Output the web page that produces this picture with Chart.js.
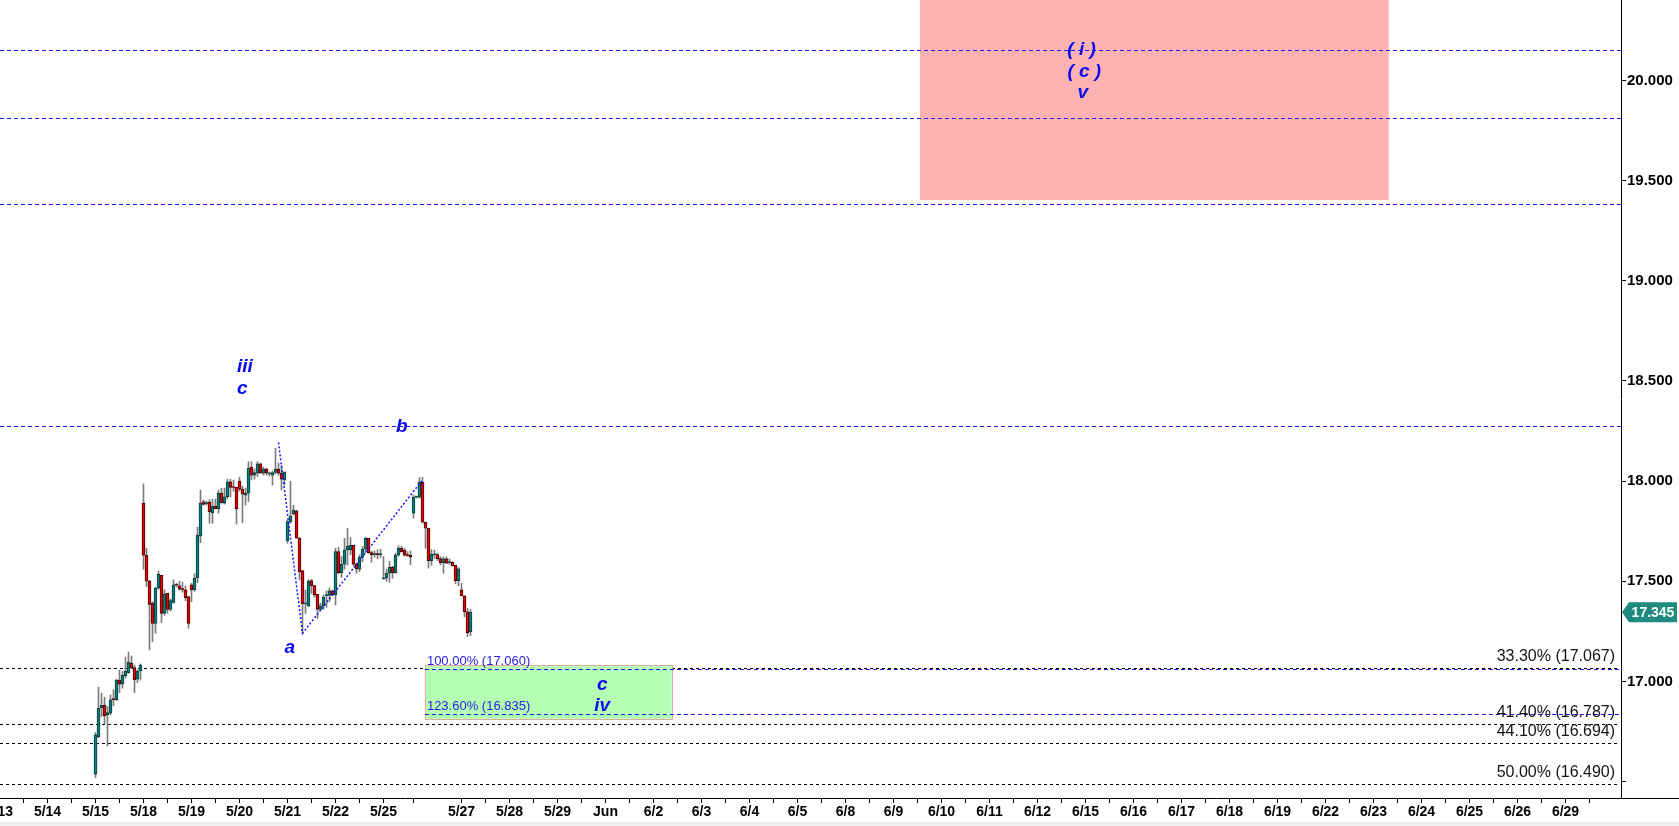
<!DOCTYPE html>
<html>
<head>
<meta charset="utf-8">
<title>Wave count</title>
<script src="https://cdn.jsdelivr.net/npm/chart.js@4.4.1/dist/chart.umd.min.js"></script>
<style>
  html, body { margin: 0; padding: 0; background: #fff; overflow: hidden; }
  canvas { display: block; }
</style>
</head>
<body>
<canvas id="chart" width="1679" height="826"></canvas>
<script>
// ── Données (barres intraday, 16 par séance) ───────────────────────────────

const OPEN = [
  16.537,16.724,16.869,16.881,16.833,16.841,16.911,16.908,17.007,16.986,17.029,17.044,17.091,17.069,17.011,17.052,
  17.890,17.630,17.500,17.390,17.290,17.465,17.530,17.340,17.440,17.360,17.395,17.482,17.477,17.460,17.457,17.423,
  17.482,17.457,17.518,17.726,17.896,17.888,17.895,17.843,17.876,17.863,17.940,17.890,17.922,17.997,17.969,17.969,
  18.000,17.960,17.930,17.940,18.069,18.030,18.040,18.086,18.040,18.060,18.036,18.030,18.043,18.060,18.040,18.006,
  17.703,17.798,17.836,17.851,17.715,17.553,17.387,17.378,17.503,17.478,17.435,17.360,17.377,17.428,17.430,17.452,
  17.432,17.648,17.543,17.585,17.656,17.657,17.680,17.585,17.560,17.620,17.660,17.715,17.643,17.633,17.635,17.633,
  17.512,17.515,17.540,17.570,17.543,17.630,17.665,17.655,17.630,17.630,17.840,17.920,17.920,17.994,17.795,17.765,
  17.603,17.632,17.633,17.613,17.593,17.612,17.593,17.595,17.580,17.503,17.457,17.427,17.348,17.249
];
const HIGH = [
  16.744,16.971,16.941,16.921,16.874,16.933,16.958,17.011,17.057,17.049,17.121,17.147,17.127,17.081,17.057,17.087,
  17.986,17.665,17.505,17.398,17.470,17.552,17.530,17.457,17.440,17.412,17.507,17.490,17.500,17.496,17.477,17.423,
  17.490,17.537,17.770,17.956,17.906,17.900,17.906,17.910,17.910,17.956,17.965,17.965,18.009,18.009,18.005,17.969,
  18.020,17.975,17.965,18.097,18.097,18.060,18.097,18.090,18.070,18.065,18.045,18.050,18.164,18.090,18.078,18.020,
  17.806,18.000,17.880,17.856,17.720,17.553,17.457,17.508,17.508,17.478,17.435,17.390,17.432,17.452,17.467,17.457,
  17.665,17.670,17.623,17.715,17.765,17.718,17.680,17.590,17.632,17.673,17.720,17.715,17.650,17.652,17.657,17.660,
  17.623,17.560,17.600,17.575,17.640,17.678,17.675,17.665,17.648,17.652,17.930,17.925,18.019,18.019,17.795,17.765,
  17.658,17.655,17.640,17.623,17.622,17.622,17.612,17.598,17.580,17.568,17.490,17.427,17.365,17.360
];
const LOW = [
  16.520,16.718,16.824,16.788,16.679,16.833,16.878,16.905,16.944,16.966,17.016,17.041,17.064,16.944,16.994,17.007,
  17.560,17.473,17.157,17.199,17.240,17.460,17.294,17.330,17.340,17.352,17.390,17.472,17.455,17.445,17.403,17.266,
  17.398,17.450,17.493,17.693,17.880,17.880,17.790,17.790,17.865,17.840,17.890,17.885,17.912,17.922,17.950,17.786,
  17.950,17.793,17.880,17.898,18.006,18.010,18.022,18.040,18.030,18.030,18.025,17.980,18.036,18.030,17.956,17.980,
  17.690,17.790,17.830,17.715,17.507,17.240,17.340,17.373,17.440,17.420,17.315,17.356,17.360,17.370,17.400,17.430,
  17.382,17.538,17.520,17.560,17.580,17.633,17.577,17.540,17.548,17.597,17.643,17.640,17.595,17.620,17.612,17.618,
  17.510,17.500,17.495,17.515,17.540,17.625,17.645,17.625,17.625,17.583,17.815,17.915,17.915,17.790,17.665,17.565,
  17.580,17.615,17.603,17.582,17.540,17.588,17.585,17.575,17.487,17.477,17.427,17.323,17.224,17.228
];
const CLOSE = [
  16.733,16.866,16.881,16.829,16.844,16.908,16.909,17.007,16.986,17.031,17.052,17.097,17.069,17.009,17.052,17.081,
  17.630,17.500,17.385,17.290,17.465,17.535,17.340,17.437,17.360,17.403,17.482,17.480,17.460,17.458,17.418,17.290,
  17.457,17.515,17.731,17.890,17.884,17.890,17.848,17.876,17.863,17.940,17.893,17.922,17.997,17.969,17.968,17.863,
  17.960,17.935,17.942,18.064,18.030,18.043,18.086,18.040,18.060,18.040,18.038,18.043,18.060,18.040,18.010,18.046,
  17.798,17.826,17.856,17.715,17.548,17.387,17.390,17.500,17.478,17.432,17.360,17.377,17.420,17.430,17.452,17.432,
  17.648,17.543,17.585,17.656,17.676,17.680,17.585,17.562,17.620,17.660,17.715,17.643,17.631,17.635,17.633,17.635,
  17.515,17.540,17.570,17.543,17.630,17.665,17.648,17.630,17.628,17.620,17.920,17.920,17.994,17.795,17.765,17.603,
  17.635,17.633,17.613,17.593,17.612,17.590,17.595,17.577,17.503,17.562,17.427,17.348,17.244,17.345
];

// Axe des dates (position en nombre de barres depuis le 5/15)
const X_LABELS = ['5/13','5/14','5/15','5/18','5/19','5/20','5/21','5/22','5/25','5/27','5/28','5/29','Jun',
  '6/2','6/3','6/4','6/5','6/8','6/9','6/10','6/11','6/12','6/15','6/16','6/17','6/18','6/19','6/22','6/23',
  '6/24','6/25','6/26','6/29'];
const X_LABEL_BARS = [-32,-16,0,16,32,48,64,80,96,122,138,154,170,186,202,218,234,250,266,282,298,314,330,
  346,362,378,394,410,426,442,458,474,490];
// 3 px par barre, barre 0 centrée sur x = 95.5
const X_MIN = -95.5 / 3;
const X_MAX = X_MIN + 1621 / 3;

const Y_TICKS = [16.5, 17, 17.5, 18, 18.5, 19, 19.5, 20];
const Y_MIN = 16.418;
const Y_MAX = 20.402;

// Niveaux tracés
const BLUE_LEVELS = [20.151, 19.813, 19.382, 18.276];
const FIB_LEVELS = [17.067, 16.787, 16.694, 16.490];
const FIB_PCT = ['33.30%', '41.40%', '44.10%', '50.00%'];
const PROJ_LEVELS = [17.060, 16.835];
const PROJ_PCT = ['100.00%', '123.60%'];

// Zones
const TARGET_BOX_BARS = [274.8, 431.1];
const TARGET_BOX_PRICES = [19.404, 20.6];
const IV_BOX_BARS = [109.8, 192.1];
const IV_BOX_PRICES = [16.811, 17.082];

// Tracé a-b-c pointillé
const WAVE_BARS = [61, 69, 109];
const WAVE_PRICES = [18.193, 17.240, 18.006];

// Étiquettes de vagues
const WAVE_TEXT = ['iii', 'c', 'b', 'a', '( i )', '( c )', 'v', 'c', 'iv'];
const WAVE_TEXT_BARS = [49.8, 48.9, 102.1, 64.8, 328.7, 329.6, 329.1, 168.9, 168.9];
const WAVE_TEXT_PRICES = [18.572, 18.459, 18.269, 17.166, 20.156, 20.044, 19.937, 16.983, 16.878];

// ── Styles ────────────────────────────────────────────────────────────────

const FONT = 'Arial, "Liberation Sans", sans-serif';
const UP = '#00817d';
const UP_EDGE = '#0c3d3b';
const DOWN = '#e80000';
const DOWN_EDGE = '#4a0000';
const WAVE_BLUE = '#0a0af2';

const BARS = OPEN.map((_, i) => i);
const isUp = i => CLOSE[i] >= OPEN[i];

const labelByBar = new Map(X_LABEL_BARS.map((b, i) => [b, X_LABELS[i]]));
const minorBars = X_LABEL_BARS.filter(b => b !== 96).map(b => b + 8).concat([106]);
const xTickValues = X_LABEL_BARS.concat(minorBars).sort((a, b) => a - b);

function hLine(ctx, x0, x1, y, color, dash) {
  const py = Math.round(y) + 0.5;
  ctx.beginPath();
  ctx.moveTo(x0, py);
  ctx.lineTo(x1, py);
  ctx.strokeStyle = color;
  ctx.lineWidth = 1;
  ctx.setLineDash(dash);
  ctx.stroke();
}

// Plugin : zones, niveaux, textes, étiquette de prix
const overlay = {
  id: 'overlay',
  beforeDraw(chart) {
    const { ctx, width, height } = chart;
    ctx.save();
    ctx.fillStyle = '#ffffff';
    ctx.fillRect(0, 0, width, height);
    ctx.restore();
  },
  beforeDatasetsDraw(chart) {
    const { ctx, chartArea: a, scales: { x, y } } = chart;
    ctx.save();
    ctx.beginPath();
    ctx.rect(a.left, a.top, a.right - a.left, a.bottom - a.top);
    ctx.clip();

    // Zone cible rose
    const tx0 = x.getPixelForValue(TARGET_BOX_BARS[0]);
    const tx1 = x.getPixelForValue(TARGET_BOX_BARS[1]);
    const ty0 = y.getPixelForValue(TARGET_BOX_PRICES[1]);
    const ty1 = y.getPixelForValue(TARGET_BOX_PRICES[0]);
    ctx.fillStyle = '#ffb2b2';
    ctx.fillRect(tx0, ty0, tx1 - tx0, ty1 - ty0);

    // Retracements (noir)
    FIB_LEVELS.forEach(v => hLine(ctx, a.left, a.right - 4, y.getPixelForValue(v), '#000000', [3, 3]));

    // Zone verte iv
    const gx0 = x.getPixelForValue(IV_BOX_BARS[0]);
    const gx1 = x.getPixelForValue(IV_BOX_BARS[1]);
    const gy0 = y.getPixelForValue(IV_BOX_PRICES[1]);
    const gy1 = y.getPixelForValue(IV_BOX_PRICES[0]);
    ctx.fillStyle = '#b4ffb4';
    ctx.fillRect(gx0, gy0, gx1 - gx0, gy1 - gy0);
    ctx.strokeStyle = '#e6aaaa';
    ctx.lineWidth = 1;
    ctx.setLineDash([]);
    ctx.strokeRect(Math.round(gx0) + 0.5, Math.round(gy0) + 0.5, Math.round(gx1 - gx0), Math.round(gy1 - gy0));

    // Niveaux bleus
    BLUE_LEVELS.forEach(v => hLine(ctx, a.left, a.right, y.getPixelForValue(v), '#1414ff', [4, 3]));
    PROJ_LEVELS.forEach(v => hLine(ctx, gx0, a.right, y.getPixelForValue(v), '#1414ff', [4, 3]));

    ctx.restore();
  },
  afterDatasetsDraw(chart) {
    const { ctx, chartArea: a, scales: { x, y } } = chart;
    ctx.save();

    // Libellés des retracements
    ctx.font = `16px ${FONT}`;
    ctx.fillStyle = '#141414';
    ctx.textAlign = 'right';
    ctx.textBaseline = 'alphabetic';
    FIB_LEVELS.forEach((v, i) => {
      ctx.fillText(`${FIB_PCT[i]} (${v.toFixed(3)})`, a.right - 6, y.getPixelForValue(v) - 7);
    });

    // Libellés des projections
    ctx.font = `13px ${FONT}`;
    ctx.fillStyle = '#2a22e0';
    ctx.textAlign = 'left';
    const gx0 = x.getPixelForValue(IV_BOX_BARS[0]);
    PROJ_LEVELS.forEach((v, i) => {
      ctx.fillText(`${PROJ_PCT[i]} (${v.toFixed(3)})`, gx0 + 2, y.getPixelForValue(v) - 4);
    });

    // Étiquettes de vagues
    ctx.font = `italic bold 19px ${FONT}`;
    ctx.fillStyle = WAVE_BLUE;
    ctx.textAlign = 'center';
    ctx.textBaseline = 'middle';
    WAVE_TEXT.forEach((t, i) => {
      ctx.fillText(t, x.getPixelForValue(WAVE_TEXT_BARS[i]), y.getPixelForValue(WAVE_TEXT_PRICES[i]));
    });

    ctx.restore();
  },
  afterDraw(chart) {
    const { ctx, width, height, chartArea: a, scales: { y } } = chart;
    ctx.save();

    // Ligne de base prolongée sous l'axe des prix
    ctx.strokeStyle = '#000';
    ctx.lineWidth = 1;
    ctx.beginPath();
    ctx.moveTo(a.right, Math.round(a.bottom) + 0.5);
    ctx.lineTo(width, Math.round(a.bottom) + 0.5);
    ctx.stroke();

    // Bande grise du bas
    ctx.fillStyle = '#f0f0f0';
    ctx.fillRect(0, height - 4, width, 4);

    // Étiquette du dernier prix
    const last = CLOSE[CLOSE.length - 1];
    const py = y.getPixelForValue(last);
    const x0 = a.right + 1;
    ctx.fillStyle = '#1f8a80';
    ctx.beginPath();
    ctx.moveTo(x0, py);
    ctx.lineTo(x0 + 7, py - 10);
    ctx.lineTo(width - 2, py - 10);
    ctx.lineTo(width - 2, py + 10);
    ctx.lineTo(x0 + 7, py + 10);
    ctx.closePath();
    ctx.fill();
    ctx.fillStyle = '#ffffff';
    ctx.font = `bold 14px ${FONT}`;
    ctx.textAlign = 'center';
    ctx.textBaseline = 'middle';
    ctx.fillText(last.toFixed(3), (x0 + 7 + width - 2) / 2, py + 1);

    ctx.restore();
  },
};

new Chart(document.getElementById('chart'), {
  type: 'bar',
  plugins: [overlay],
  data: {
    datasets: [
      {
        type: 'line',
        label: 'abc',
        data: WAVE_BARS.map((b, i) => ({ x: b, y: WAVE_PRICES[i] })),
        borderColor: '#1414ff',
        borderWidth: 1.5,
        borderDash: [2, 2],
        pointRadius: 0,
        tension: 0,
        order: -1,
      },
      {
        label: 'corps',
        data: BARS.map(i => ({ x: i, y: [OPEN[i], CLOSE[i]] })),
        backgroundColor: c => (isUp(c.dataIndex) ? UP : DOWN),
        borderColor: c => (isUp(c.dataIndex) ? UP_EDGE : DOWN_EDGE),
        borderWidth: 1,
        borderSkipped: false,
        barThickness: 3,
        minBarLength: 1,
        grouped: false,
        order: 0,
      },
      {
        label: 'mèches',
        data: BARS.map(i => ({ x: i, y: [LOW[i], HIGH[i]] })),
        backgroundColor: '#7c7c7c',
        borderWidth: 0,
        barThickness: 1,
        grouped: false,
        order: 1,
      },
    ],
  },
  options: {
    responsive: false,
    animation: false,
    devicePixelRatio: 1,
    layout: { padding: 0 },
    plugins: {
      legend: { display: false },
      tooltip: { enabled: false },
    },
    scales: {
      x: {
        type: 'linear',
        min: X_MIN,
        max: X_MAX,
        offset: false,
        bounds: 'data',
        grid: { display: true, drawOnChartArea: false, drawTicks: true, tickLength: 5, color: '#000', offset: false },
        border: { display: true, color: '#000' },
        ticks: {
          autoSkip: false,
          maxRotation: 0,
          padding: 1,
          color: '#000',
          font: { family: FONT, size: 14, weight: 'bold' },
          callback: v => labelByBar.get(v) ?? '',
        },
        afterBuildTicks: s => { s.ticks = xTickValues.map(v => ({ value: v })); },
        afterFit: s => { s.height = 28; s.paddingLeft = 0; s.paddingRight = 0; },
      },
      y: {
        type: 'linear',
        position: 'right',
        min: Y_MIN,
        max: Y_MAX,
        bounds: 'data',
        grid: { display: true, drawOnChartArea: false, drawTicks: true, tickLength: 5, color: '#000' },
        border: { display: true, color: '#000' },
        ticks: {
          padding: 1,
          color: '#000',
          font: { family: FONT, size: 15, weight: 'bold' },
          callback: v => (v < 16.9 ? '' : Number(v).toFixed(3)),
        },
        afterBuildTicks: s => { s.ticks = Y_TICKS.map(v => ({ value: v })); },
        afterFit: s => { s.width = 58; s.paddingTop = 0; s.paddingBottom = 0; },
      },
    },
  },
});
</script>
</body>
</html>
